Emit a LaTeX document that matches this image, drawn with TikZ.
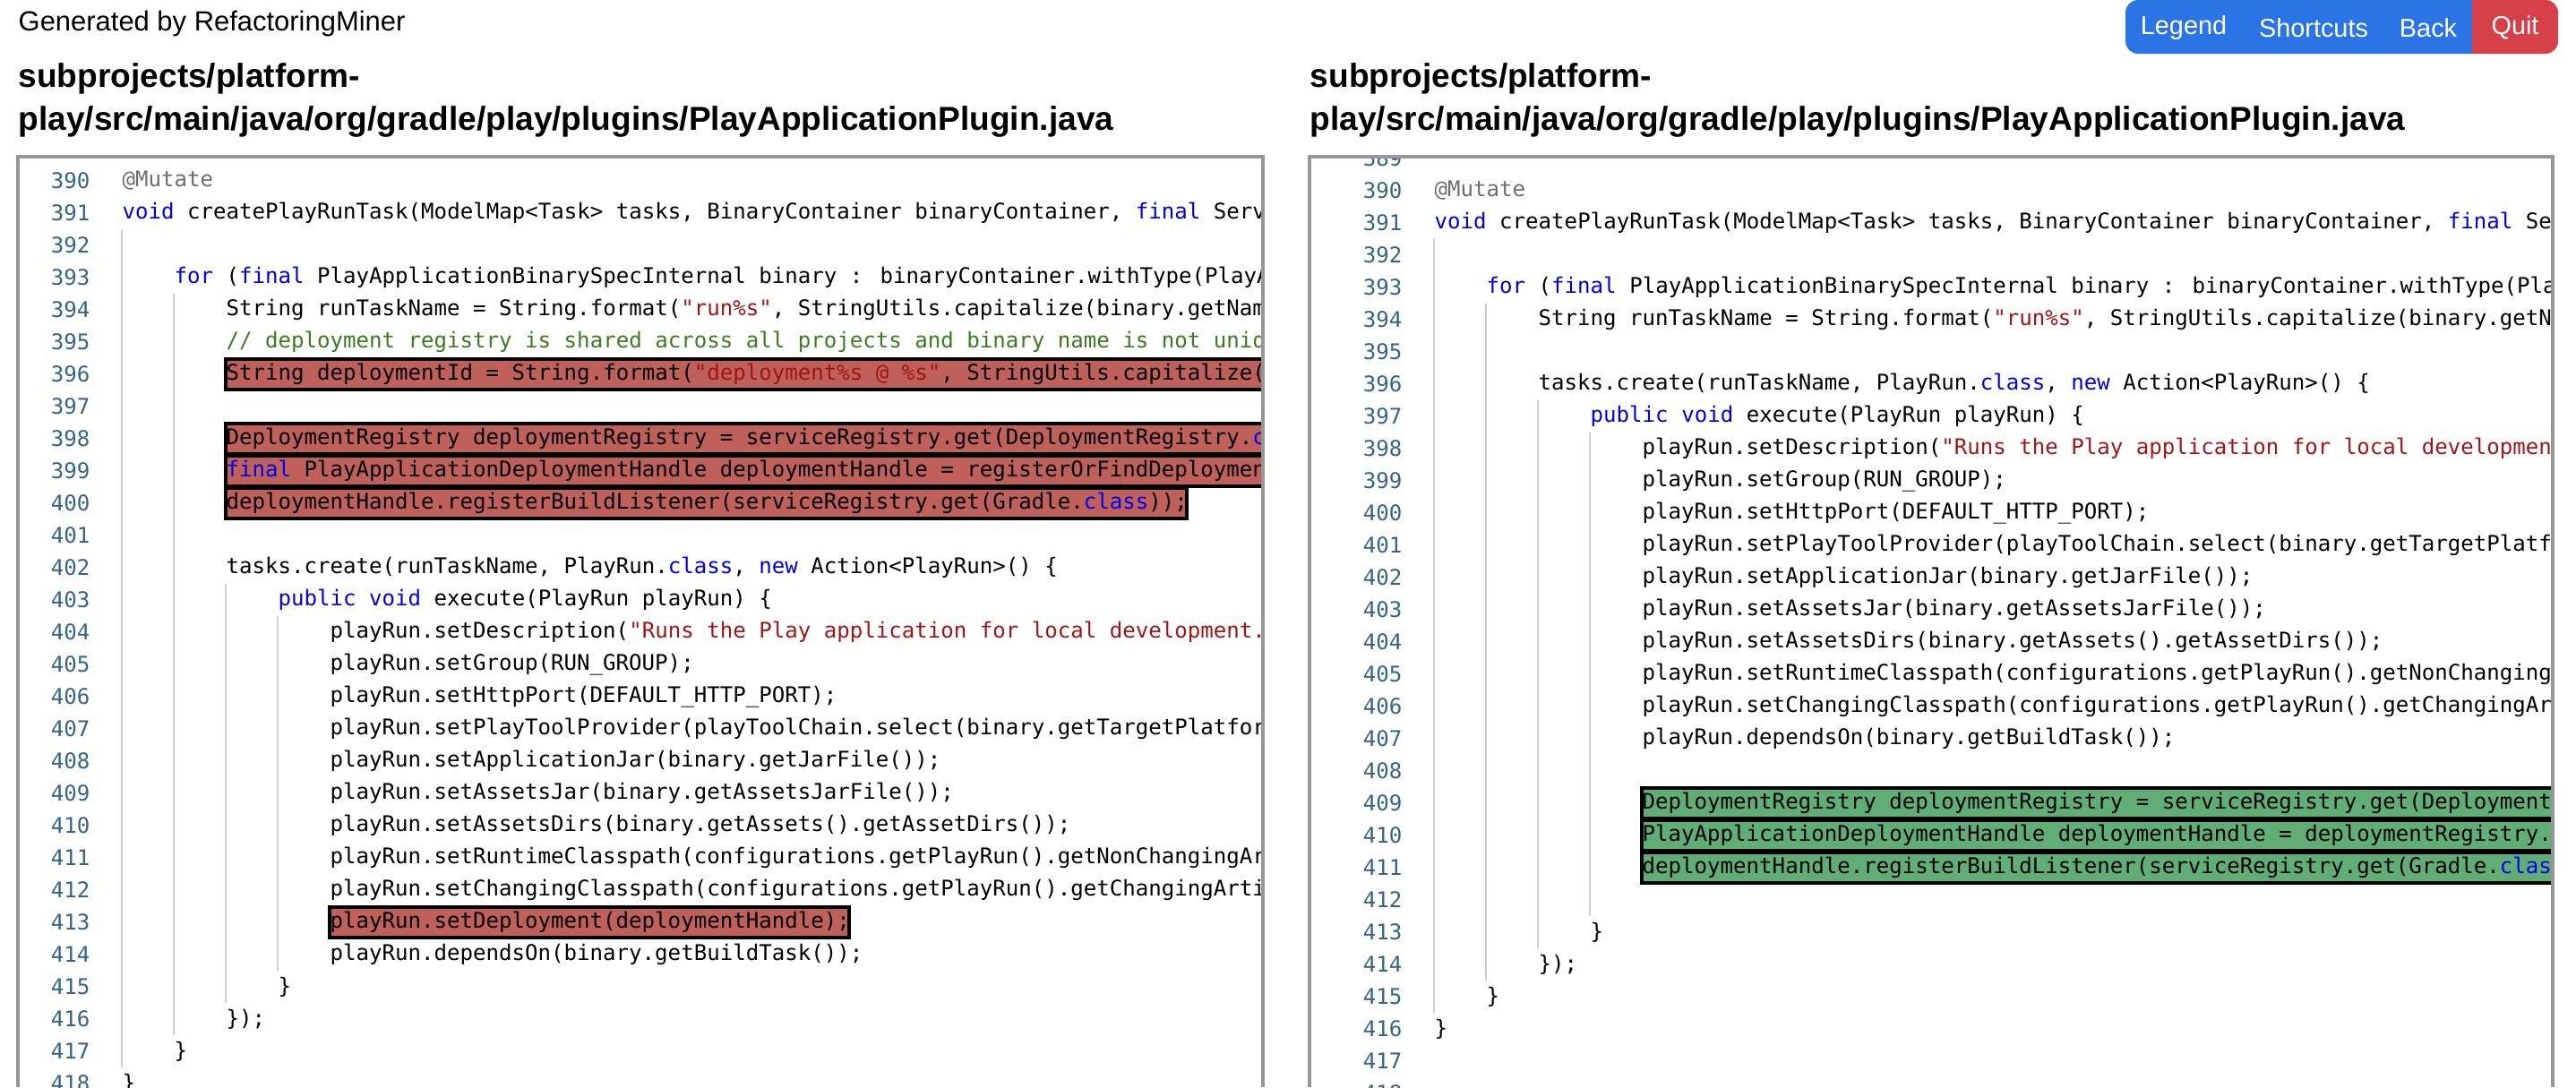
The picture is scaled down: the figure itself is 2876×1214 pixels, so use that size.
\documentclass[tikz,border=0pt]{standalone}
\usepackage{fontspec}
\setmainfont{Liberation Sans}
\newfontfamily\codefont{DejaVu Sans Mono}
\usetikzlibrary{positioning}
\definecolor{kwcolor}{RGB}{0,0,230}
\definecolor{strcolor}{RGB}{163,21,21}
\definecolor{cmtcolor}{RGB}{58,125,30}
\definecolor{annocolor}{RGB}{110,110,110}
\definecolor{numcolor}{RGB}{52,100,140}
\definecolor{delcolor}{RGB}{192,96,90}
\definecolor{addcolor}{RGB}{96,174,118}
\definecolor{btnblue}{RGB}{42,116,230}
\definecolor{btnred}{RGB}{214,64,72}
\definecolor{panelline}{RGB}{150,150,150}
\definecolor{guide}{RGB}{205,205,205}
\newcommand\kw[1]{\textcolor{kwcolor}{#1}}
\newcommand\str[1]{\textcolor{strcolor}{#1}}
\newcommand\cmt[1]{\textcolor{cmtcolor}{#1}}
% left / right code lines: {line}{indent}{text}
\newcommand\lcode[3]{\node[code] at ({136+#2*58},{202+(#1-390)*36}) {#3};}
\newcommand\rcode[3]{\node[code] at ({1601+#2*58},{213+(#1-390)*36}) {#3};}
\tikzset{
  code/.style={anchor=west, inner sep=0pt, font=\codefont\fontsize{6.85pt}{8pt}\selectfont},
  lnum/.style={anchor=east, inner sep=0pt, text=numcolor, font=\codefont\fontsize{6.85pt}{8pt}\selectfont},
  title/.style={anchor=west, inner sep=0pt, font=\bfseries\fontsize{10.55pt}{12pt}\selectfont},
  btn/.style={text=white, inner sep=0pt, font=\fontsize{8.2pt}{9pt}\selectfont},
  delbox/.style={fill=delcolor, draw=black, line width=1.2pt},
  addbox/.style={fill=addcolor, draw=black, line width=1.2pt},
  guideline/.style={draw=guide, line width=0.5pt}
}
\begin{document}
\begin{tikzpicture}[x=0.01cm, y=-0.01cm]
    \useasboundingbox[fill=white] (0,0) rectangle (2876,1214);

    % header
    \node[anchor=west, inner sep=0pt, font=\fontsize{8.8pt}{10pt}\selectfont] (gen) at (20,26) {Generated by RefactoringMiner};
    \fill[btnblue, rounded corners=4] (2373,0) rectangle (2775,60);
    \fill[btnred, rounded corners=4] (2760,0) rectangle (2856,60);
    \fill[btnred] (2760,0) rectangle (2780,60);
    \node[btn] (legend) at (2438,31) {Legend};
    \node[btn] (shortcuts) at (2583,31) {Shortcuts};
    \node[btn] (back) at (2711,31) {Back};
    \node[btn] (quit) at (2808,31) {Quit};

    % titles
    \node[title] (ltitle1) at (20,88) {subprojects/platform-};
    \node[title] (ltitle2) at (20,136) {play/src/main/java/org/gradle/play/plugins/PlayApplicationPlugin.java};
    \node[title] (rtitle1) at (1462,88) {subprojects/platform-};
    \node[title] (rtitle2) at (1462,136) {play/src/main/java/org/gradle/play/plugins/PlayApplicationPlugin.java};

    % left panel
    \begin{scope}
        \clip (20,175) rectangle (1410,1214);
        \foreach \n in {390,...,418} \node[lnum] at (101,{202+(\n-390)*36}) {\n};
        \draw[guideline] (136,{202+1.5*36}) -- (136,{202+27.5*36});
        \draw[guideline] (194,{202+3.5*36}) -- (194,{202+26.5*36});
        \draw[guideline] (252,{202+12.5*36}) -- (252,{202+25.5*36});
        \draw[guideline] (310,{202+13.5*36}) -- (310,{202+24.5*36});
        \draw[delbox] (252,{202+6*36-17}) rectangle (1440,{202+6*36+17});
        \draw[delbox] (252,{202+8*36-17}) rectangle (1440,{202+8*36+17});
        \draw[delbox] (252,{202+9*36-17}) rectangle (1440,{202+9*36+17});
        \draw[delbox] (252,{202+10*36-17}) rectangle (1325,{202+10*36+17});
        \draw[delbox] (368,{202+23*36-17}) rectangle (948,{202+23*36+17});
        \lcode{390}{0}{\textcolor{annocolor}{@Mutate}}
        \lcode{391}{0}{\kw{void} createPlayRunTask(ModelMap<Task> tasks, BinaryContainer binaryContainer, \kw{final} ServiceRegistry serviceRegistry)}
        \lcode{393}{1}{\kw{for} (\kw{final} PlayApplicationBinarySpecInternal binary : binaryContainer.withType(PlayApplicationBinarySpecInternal.\kw{class})) \{}
        \lcode{394}{2}{String runTaskName = String.format(\str{"run\%s"}, StringUtils.capitalize(binary.getName()));}
        \lcode{395}{2}{\cmt{// deployment registry is shared across all projects and binary name is not unique}}
        \lcode{396}{2}{String deploymentId = String.format(\str{"deployment\%s @ \%s"}, StringUtils.capitalize(binary.getName()));}
        \lcode{398}{2}{DeploymentRegistry deploymentRegistry = serviceRegistry.get(DeploymentRegistry.\kw{class});}
        \lcode{399}{2}{\kw{final} PlayApplicationDeploymentHandle deploymentHandle = registerOrFindDeploymentHandle(deploymentRegistry);}
        \lcode{400}{2}{deploymentHandle.registerBuildListener(serviceRegistry.get(Gradle.\kw{class}));}
        \lcode{402}{2}{tasks.create(runTaskName, PlayRun.\kw{class}, \kw{new} Action<PlayRun>() \{}
        \lcode{403}{3}{\kw{public} \kw{void} execute(PlayRun playRun) \{}
        \lcode{404}{4}{playRun.setDescription(\str{"Runs the Play application for local development."});}
        \lcode{405}{4}{playRun.setGroup(RUN\_GROUP);}
        \lcode{406}{4}{playRun.setHttpPort(DEFAULT\_HTTP\_PORT);}
        \lcode{407}{4}{playRun.setPlayToolProvider(playToolChain.select(binary.getTargetPlatform()));}
        \lcode{408}{4}{playRun.setApplicationJar(binary.getJarFile());}
        \lcode{409}{4}{playRun.setAssetsJar(binary.getAssetsJarFile());}
        \lcode{410}{4}{playRun.setAssetsDirs(binary.getAssets().getAssetDirs());}
        \lcode{411}{4}{playRun.setRuntimeClasspath(configurations.getPlayRun().getNonChangingArtifacts());}
        \lcode{412}{4}{playRun.setChangingClasspath(configurations.getPlayRun().getChangingArtifacts());}
        \lcode{413}{4}{playRun.setDeployment(deploymentHandle);}
        \lcode{414}{4}{playRun.dependsOn(binary.getBuildTask());}
        \lcode{415}{3}{\}}
        \lcode{416}{2}{\});}
        \lcode{417}{1}{\}}
        \lcode{418}{0}{\}}
    \end{scope}
    \draw[panelline, line width=1pt] (20,1214) |- (1410,175) -- (1410,1214);

    % right panel
    \begin{scope}
        \clip (1462,175) rectangle (2850,1214);
        \foreach \n in {389,...,418} \node[lnum] at (1566,{213+(\n-390)*36}) {\n};
        \draw[guideline] (1601,{213+1.5*36}) -- (1601,{213+25.5*36});
        \draw[guideline] (1659,{213+3.5*36}) -- (1659,{213+24.5*36});
        \draw[guideline] (1717,{213+6.5*36}) -- (1717,{213+23.5*36});
        \draw[guideline] (1775,{213+7.5*36}) -- (1775,{213+22.5*36});
        \draw[addbox] (1833,{213+19*36-17}) rectangle (2880,{213+19*36+17});
        \draw[addbox] (1833,{213+20*36-17}) rectangle (2880,{213+20*36+17});
        \draw[addbox] (1833,{213+21*36-17}) rectangle (2880,{213+21*36+17});
        \rcode{390}{0}{\textcolor{annocolor}{@Mutate}}
        \rcode{391}{0}{\kw{void} createPlayRunTask(ModelMap<Task> tasks, BinaryContainer binaryContainer, \kw{final} ServiceRegistry serviceRegistry)}
        \rcode{393}{1}{\kw{for} (\kw{final} PlayApplicationBinarySpecInternal binary : binaryContainer.withType(PlayApplicationBinarySpecInternal.\kw{class})) \{}
        \rcode{394}{2}{String runTaskName = String.format(\str{"run\%s"}, StringUtils.capitalize(binary.getName()));}
        \rcode{396}{2}{tasks.create(runTaskName, PlayRun.\kw{class}, \kw{new} Action<PlayRun>() \{}
        \rcode{397}{3}{\kw{public} \kw{void} execute(PlayRun playRun) \{}
        \rcode{398}{4}{playRun.setDescription(\str{"Runs the Play application for local development."});}
        \rcode{399}{4}{playRun.setGroup(RUN\_GROUP);}
        \rcode{400}{4}{playRun.setHttpPort(DEFAULT\_HTTP\_PORT);}
        \rcode{401}{4}{playRun.setPlayToolProvider(playToolChain.select(binary.getTargetPlatform()));}
        \rcode{402}{4}{playRun.setApplicationJar(binary.getJarFile());}
        \rcode{403}{4}{playRun.setAssetsJar(binary.getAssetsJarFile());}
        \rcode{404}{4}{playRun.setAssetsDirs(binary.getAssets().getAssetDirs());}
        \rcode{405}{4}{playRun.setRuntimeClasspath(configurations.getPlayRun().getNonChangingArtifacts());}
        \rcode{406}{4}{playRun.setChangingClasspath(configurations.getPlayRun().getChangingArtifacts());}
        \rcode{407}{4}{playRun.dependsOn(binary.getBuildTask());}
        \rcode{409}{4}{DeploymentRegistry deploymentRegistry = serviceRegistry.get(DeploymentRegistry.\kw{class});}
        \rcode{410}{4}{PlayApplicationDeploymentHandle deploymentHandle = deploymentRegistry.get(deploymentId);}
        \rcode{411}{4}{deploymentHandle.registerBuildListener(serviceRegistry.get(Gradle.\kw{class}));}
        \rcode{413}{3}{\}}
        \rcode{414}{2}{\});}
        \rcode{415}{1}{\}}
        \rcode{416}{0}{\}}
    \end{scope}
    \draw[panelline, line width=1pt] (1462,1214) |- (2850,175) -- (2850,1214);
\end{tikzpicture}
\end{document}
